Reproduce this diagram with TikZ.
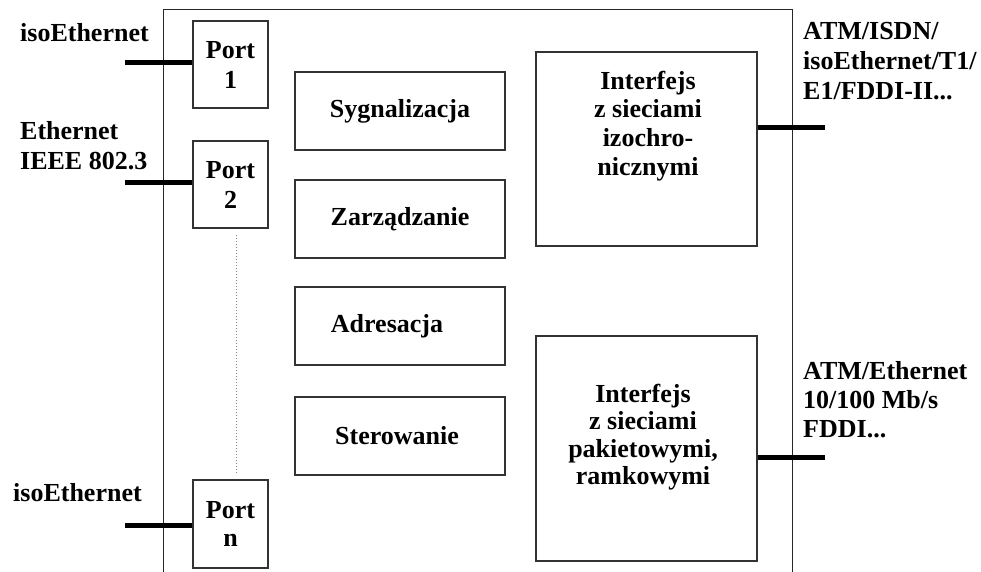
\documentclass[tikz,border=0pt]{standalone}
\usepackage{fontspec}
\setmainfont{Liberation Serif}
\begin{document}
\begin{tikzpicture}[x=1pt,y=-1pt,
  box/.style={draw=black!80, line width=1.3pt, inner sep=0pt, align=center,
    font=\fontsize{26}{30}\selectfont\bfseries},
  txt/.style={inner sep=0pt, align=center, font=\fontsize{26}{28}\selectfont\bfseries},
  lbl/.style={inner sep=0pt, align=left, anchor=west},
  frame/.style={draw=black!85, line width=1pt},
  link/.style={line width=5pt},
  ports/.style={gray, dotted, line width=1pt}]
\useasboundingbox (0,0) rectangle (981,572);

% housing (open at the bottom)
\draw[frame] (163,572) -- (163,10) -- (792,10) -- (792,572);

% ports
\node[box, minimum width=75pt, minimum height=87pt] (p1) at (230.5,64.5) {Port\\1};
\node[box, minimum width=75pt, minimum height=87pt] (p2) at (230.5,184.5) {Port\\2};
\node[box, minimum width=75pt, minimum height=88pt,
  font=\fontsize{26}{28}\selectfont\bfseries] (pn) at (230.5,524) {Port\\n};
\coordinate (d1) at (236,235);
\coordinate (d2) at (236,473);
\draw[ports] (d1) -- (d2);

% function blocks
\node[box, minimum width=210pt, minimum height=78pt] (syg) at (400,111) {Sygnalizacja};
\node[box, minimum width=210pt, minimum height=78pt] (zar) at (400,219) {Zarządzanie};
\node[box, minimum width=210pt, minimum height=78pt] (adr) at (400,326) {Adresacja\hspace*{26pt}};
\node[box, minimum width=210pt, minimum height=78pt] (ste) at (400,436) {Sterowanie\hspace*{6pt}};

% network interfaces
\node[box, minimum width=221pt, minimum height=194pt] (iso) at (646.5,149) {};
\node[txt, font=\fontsize{26}{28.7}\selectfont\bfseries] (isot) at (648,126)
  {Interfejs\\z sieciami\\izochro-\\nicznymi};
\node[box, minimum width=221pt, minimum height=225pt] (pak) at (646.5,448.5) {};
\node[txt, font=\fontsize{26}{27.5}\selectfont\bfseries] (pakt) at (643,437)
  {Interfejs\\z sieciami\\pakietowymi,\\ramkowymi};

% external links
\coordinate (e1) at (125,63);
\coordinate (e2) at (125,182);
\coordinate (en) at (125,525);
\coordinate (r1) at (825,128);
\coordinate (r2) at (825,457);
\draw[link] (e1) -- (p1.west |- e1);
\draw[link] (e2) -- (p2.west |- e2);
\draw[link] (en) -- (pn.west |- en);
\draw[link] (iso.east |- r1) -- (r1);
\draw[link] (pak.east |- r2) -- (r2);

% link labels
\node[lbl, font=\fontsize{26}{30}\selectfont\bfseries] (l1) at (20,33) {isoEthernet};
\node[lbl, font=\fontsize{26}{30}\selectfont\bfseries] (l2) at (20,146) {Ethernet\\IEEE 802.3};
\node[lbl, font=\fontsize{26}{30}\selectfont\bfseries] (ln) at (13,493) {isoEthernet};
\node[lbl, font=\fontsize{26}{30}\selectfont\bfseries] (lr1) at (803,61)
  {ATM/ISDN/\\isoEthernet/T1/\\E1/FDDI-II...};
\node[lbl, font=\fontsize{26}{29}\selectfont\bfseries] (lr2) at (803,400)
  {ATM/Ethernet\\10/100 Mb/s\\FDDI...};
\end{tikzpicture}
\end{document}
